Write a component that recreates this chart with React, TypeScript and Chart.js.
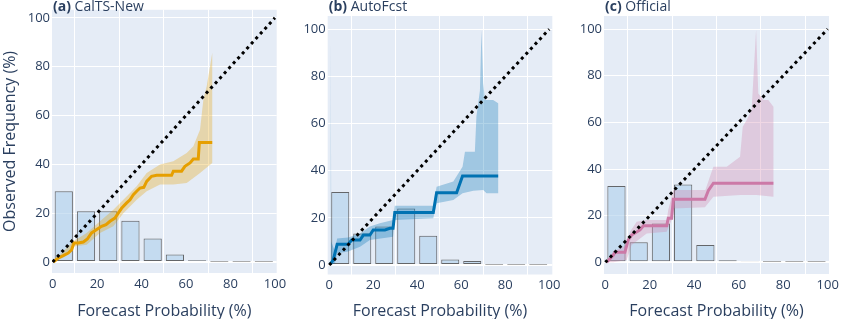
import React, { useEffect, useRef } from "react";
import { Chart, registerables } from "chart.js";
Chart.register(...registerables);

// ---------- data ----------
const xTicks = [0, 20, 40, 60, 80, 100];
const yTicks = [0, 20, 40, 60, 80, 100];
const binCenters = [5, 15, 25, 35, 45, 55, 65, 75, 85, 95];

const countsA = [29.0, 20.8, 20.8, 16.9, 9.6, 3.1, 0.7, 0.15, 0.15, 0.15];
const countsB = [31.0, 13.4, 16.3, 24.0, 12.4, 2.4, 1.7, 0.15, 0.15, 0.15];
const countsC = [32.7, 8.6, 16.7, 33.4, 7.4, 0.9, 0.4, 0.15, 0.15, 0.15];

const lineAx = [0.3, 2.5, 4.8, 7, 8.5, 9.6, 11.5, 13.8, 15.6, 17.5, 19.8, 22, 24, 25.8, 28, 29.5, 31, 33.3, 34.8, 36.3, 37.8, 39.3, 41, 42.3, 44.5, 46.8, 53.5, 54.3, 58, 59.5, 61.8, 63.3, 65.5, 66, 71.8];
const lineAy = [0, 1.6, 2.6, 3.7, 5, 7.8, 7.8, 8.2, 9.4, 11.9, 13.3, 14.6, 15.3, 16.7, 18, 20, 22, 24.2, 25.5, 27.6, 29, 30.3, 30.6, 33, 35.1, 35.5, 35.5, 37.2, 37.2, 39.2, 40.6, 42.2, 42.2, 49, 49];
const upperAx = [0.3, 2.5, 9.3, 15.3, 21.3, 27.3, 31.8, 37.8, 42.3, 48.3, 54.3, 60.3, 63.3, 66.3, 67.8, 69.3, 70.8, 71.8];
const upperAy = [0.5, 2.3, 8.5, 11.9, 16.7, 21.4, 25.5, 31, 36.5, 39.9, 41.3, 44.7, 47.4, 54.2, 66.5, 72, 80.2, 85.7];
const lowerAx = [0.3, 2.5, 9.3, 15.3, 21.3, 27.3, 31.8, 37.8, 42.3, 48.3, 54.3, 60.3, 66.3, 71.8];
const lowerAy = [0, 1, 6.4, 7.1, 11.9, 14.6, 20, 25.5, 29, 31.7, 31.7, 32.4, 36.5, 40.6];

const lineBx = [0.3, 1.8, 3.6, 8.6, 10.2, 14, 15.5, 18.5, 20, 25.3, 27.6, 29, 29.8, 47.3, 48.8, 57.9, 60.6, 76.8];
const lineBy = [0.3, 2.1, 8.8, 8.8, 10.6, 10.6, 12.7, 12.7, 14.9, 14.9, 15.6, 15.6, 22.3, 22.3, 30.7, 30.7, 37.8, 37.8];
const upperBx = [0.3, 0.5, 0.7, 0.9, 2.5, 3.6, 8.6, 14, 18.5, 23, 29, 29.8, 47.3, 48.8, 56.4, 60.6, 61.7, 66.2, 66.9, 68.5, 69.2, 70, 70.8, 74.5, 76.8];
const upperBy = [0.5, 1, 100, 10, 6, 11.3, 11.7, 13.4, 16.3, 17.7, 19.1, 25.2, 25.2, 33.2, 35.4, 41.7, 48, 48, 63, 74, 99.7, 77, 70, 70, 68.6];
const lowerBx = [0.3, 2.6, 3.6, 8.6, 14, 18.5, 29, 29.8, 47.3, 48.8, 56.4, 60.6, 65.5, 70, 71.5, 76.8];
const lowerBy = [0, 0.7, 5, 5.7, 7.8, 10.6, 12, 19.1, 19.8, 26.2, 27.6, 30.4, 31.5, 31.8, 30.4, 30.4];

const lineCx = [0.6, 3.6, 4.3, 8.8, 10.3, 11.8, 15.6, 17.1, 27.6, 28.3, 29.8, 30.6, 44.8, 46.3, 48.6, 75.6];
const lineCy = [0, 3.1, 4.3, 4.3, 9.6, 11.7, 13.9, 15.7, 15.7, 18.9, 18.9, 27, 27, 30.7, 33.9, 33.9];
const upperCx = [0.6, 3.6, 9.6, 11.1, 14.1, 18.6, 27.6, 28.3, 30.6, 45, 48.6, 54.6, 60.6, 61.8, 63.6, 65.8, 67.8, 68.8, 71.1, 73.3, 75.6];
const upperCy = [0.5, 4.6, 7.4, 13.1, 17.4, 18.1, 18.1, 22.4, 31, 31, 41, 41, 45.3, 58.1, 61, 65.3, 99.6, 72.4, 69.6, 69.6, 66.7];
const lowerCx = [0.6, 3.6, 9.6, 11.8, 18.6, 27.6, 29.8, 30.6, 44.8, 48.6, 60.6, 68, 75.6];
const lowerCy = [0, 0, 1, 7.4, 12.4, 13.1, 18.1, 23.1, 23.6, 28.1, 28.9, 28.9, 28.1];

const diagX = [0, 100];
const diagY = [0, 100];

// ---------- styling / layout ----------
const W = 850;
const H = 319;
const FONT = "'Open Sans', 'DejaVu Sans', sans-serif";
const TXT = "#2a3f5f";

const pts = (xs: number[], ys: number[]) => xs.map((x, i) => ({ x, y: ys[i] }));
const poly = (ux: number[], uy: number[], lx: number[], ly: number[]) =>
  pts(ux, uy).concat(pts(lx, ly).reverse());

const bgPlugin = {
  id: "plotBg",
  beforeDraw(chart: any) {
    const { ctx, chartArea: a } = chart;
    ctx.save();
    ctx.fillStyle = "#E5ECF6";
    ctx.fillRect(a.left, a.top, a.right - a.left, a.bottom - a.top);
    ctx.restore();
  },
};

type PanelProps = {
  tag: string;
  name: string;
  counts: number[];
  lx: number[]; ly: number[];
  ux: number[]; uy: number[];
  dx: number[]; dy: number[];
  color: string;
  band: string;
  left: number; right: number; top: number; bottom: number;
  xmin: number; xmax: number; ymin: number; ymax: number;
  yTitle: boolean;
};

function Panel(p: PanelProps) {
  const ref = useRef<HTMLCanvasElement>(null);
  useEffect(() => {
    const yw = p.yTitle ? p.left : 30;
    const chart = new Chart(ref.current as HTMLCanvasElement, {
      type: "bar",
      data: {
        datasets: [
          {
            type: "line",
            data: pts(diagX, diagY),
            borderColor: "#000",
            borderWidth: 3,
            borderDash: [3, 3.7],
            pointRadius: 0,
            fill: false,
            order: 0,
          } as any,
          {
            type: "line",
            data: pts(p.lx, p.ly),
            borderColor: p.color,
            borderWidth: 3,
            pointRadius: 0,
            fill: false,
            tension: 0,
            order: 1,
          } as any,
          {
            type: "line",
            data: poly(p.ux, p.uy, p.dx, p.dy),
            borderWidth: 0,
            borderColor: "rgba(0,0,0,0)",
            backgroundColor: p.band,
            pointRadius: 0,
            fill: "shape",
            tension: 0,
            order: 2,
          } as any,
          {
            type: "bar",
            data: binCenters.map((x, i) => ({ x, y: p.counts[i] })),
            backgroundColor: "rgba(176,208,236,0.62)",
            borderColor: "rgba(50,50,50,0.72)",
            borderWidth: 1,
            borderSkipped: false,
            barPercentage: 0.82,
            categoryPercentage: 1,
            order: 3,
          } as any,
        ],
      },
      options: {
        animation: false,
        responsive: false,
        devicePixelRatio: 1,
        layout: {
          padding: { left: p.left - yw, right: W - p.right, top: p.top, bottom: 0 },
        },
        plugins: { legend: { display: false }, tooltip: { enabled: false } },
        scales: {
          x: {
            type: "linear",
            min: p.xmin,
            max: p.xmax,
            offset: false,
            afterBuildTicks: (s: any) => { s.ticks = xTicks.map((v) => ({ value: v })); },
            afterFit: (s: any) => { s.height = H - p.bottom; },
            grid: {
              color: "#ffffff",
              lineWidth: (c: any) => (c.tick && c.tick.value === 0 ? 2 : 1),
              drawTicks: false,
            },
            border: { display: false },
            ticks: { padding: 3, maxRotation: 0, autoSkip: false, color: TXT, font: { family: FONT, size: 13 } },
            title: {
              display: true,
              text: "Forecast Probability (%)",
              color: TXT,
              font: { family: FONT, size: 16, lineHeight: 1 },
              padding: { top: 0, bottom: 0 },
            },
          },
          y: {
            type: "linear",
            min: p.ymin,
            max: p.ymax,
            afterBuildTicks: (s: any) => { s.ticks = yTicks.map((v) => ({ value: v })); },
            afterFit: (s: any) => { s.width = yw; },
            grid: {
              color: "#ffffff",
              lineWidth: (c: any) => (c.tick && c.tick.value === 0 ? 2 : 1),
              drawTicks: false,
            },
            border: { display: false },
            ticks: { padding: 2, color: TXT, font: { family: FONT, size: 13 } },
            title: {
              display: p.yTitle,
              text: "Observed Frequency (%)",
              color: TXT,
              font: { family: FONT, size: 16, lineHeight: 1 },
              padding: { top: 2, bottom: 0 },
            },
          },
        },
      } as any,
      plugins: [bgPlugin],
    });
    return () => chart.destroy();
  }, []);
  return (
    <>
      <canvas
        ref={ref}
        width={W}
        height={H}
        style={{ position: "absolute", left: 0, top: 0, width: W, height: H }}
      />
      <div
        style={{
          position: "absolute",
          left: p.left + 1,
          top: -1,
          fontFamily: FONT,
          fontSize: 14,
          lineHeight: "14px",
          color: TXT,
          whiteSpace: "nowrap",
        }}
      >
        <b>{p.tag}</b> {p.name}
      </div>
    </>
  );
}

export default function App() {
  return (
    <div style={{ position: "absolute", left: 0, top: 0, width: W, height: H, background: "#fff", overflow: "hidden" }}>
      <Panel tag="(a)" name="CalTS-New" counts={countsA}
        lx={lineAx} ly={lineAy} ux={upperAx} uy={upperAy} dx={lowerAx} dy={lowerAy}
        color="#E69F00" band="rgba(230,159,0,0.3)"
        left={52} right={276.7} top={9.5} bottom={273}
        xmin={-0.3} xmax={100.8} ymin={-4.5} ymax={103.3} yTitle={true} />
      <Panel tag="(b)" name="AutoFcst" counts={countsB}
        lx={lineBx} ly={lineBy} ux={upperBx} uy={upperBy} dx={lowerBx} dy={lowerBy}
        color="#0072B2" band="rgba(0,114,178,0.3)"
        left={327.7} right={552.3} top={16} bottom={274.5}
        xmin={-0.7} xmax={101.4} ymin={-4.0} ymax={105.6} yTitle={false} />
      <Panel tag="(c)" name="Official" counts={countsC}
        lx={lineCx} ly={lineCy} ux={upperCx} uy={upperCy} dx={lowerCx} dy={lowerCy}
        color="#CC79A7" band="rgba(204,121,167,0.3)"
        left={604} right={829} top={16} bottom={274}
        xmin={-0.6} xmax={100.6} ymin={-5.0} ymax={105.6} yTitle={false} />
    </div>
  );
}
